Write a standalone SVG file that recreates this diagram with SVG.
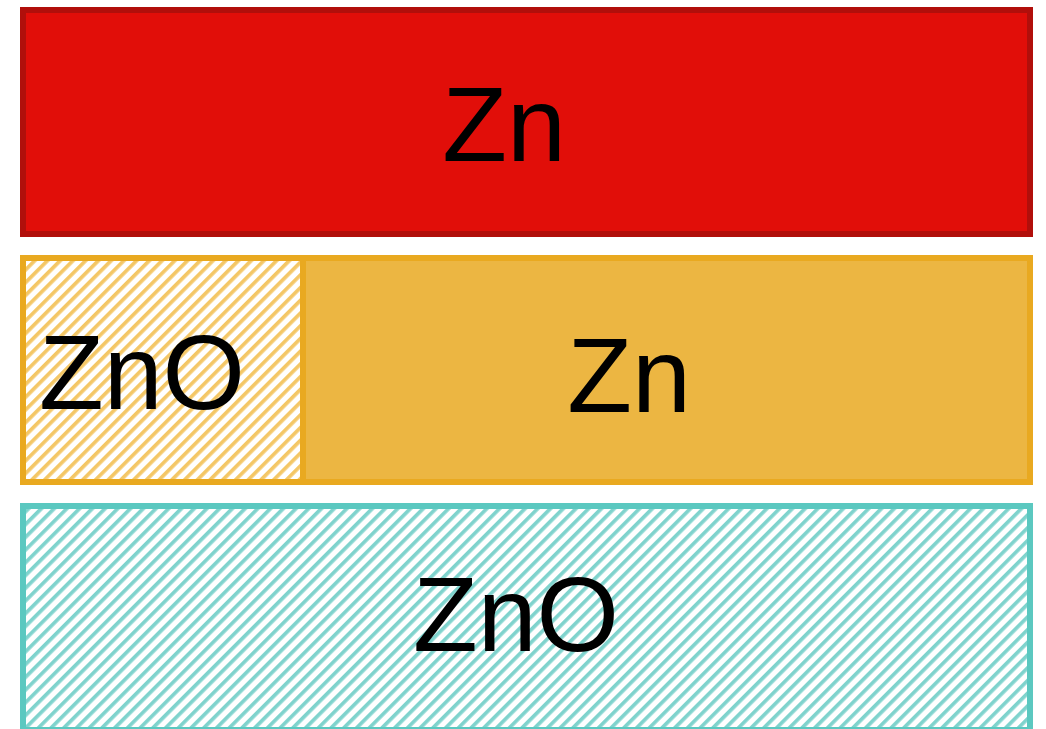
<svg xmlns="http://www.w3.org/2000/svg" width="1046" height="729" viewBox="0 0 1046 729">
  <style>
    .label { font-family: "Liberation Sans", Arial, sans-serif; font-size: 106px; fill: #000; text-anchor: middle; }
  </style>
  <defs>
    <!-- diagonal hatching used for the oxide layers -->
    <pattern id="hatch-orange" patternUnits="userSpaceOnUse" width="9" height="9" patternTransform="rotate(45)">
      <rect width="9" height="9" fill="#ffffff"/>
      <rect width="3.7" height="9" fill="#f4c766"/>
    </pattern>
    <pattern id="hatch-teal" patternUnits="userSpaceOnUse" width="9" height="9" patternTransform="rotate(45)">
      <rect width="9" height="9" fill="#ffffff"/>
      <rect width="3.7" height="9" fill="#7fd3cd"/>
    </pattern>
  </defs>
  <rect width="1046" height="729" fill="#ffffff"/>

  <!-- top layer: metallic zinc -->
  <g id="layer-zn-top">
    <rect x="23" y="10" width="1007" height="224" fill="#e10e09" stroke="#b10f0b" stroke-width="6"/>
    <text class="label" x="504" y="161">Zn</text>
  </g>

  <!-- middle layer: partially oxidised zinc -->
  <g id="layer-mixed">
    <rect x="23" y="258" width="1007" height="224" fill="#ecb642" stroke="#e9a920" stroke-width="6"/>
    <g id="layer-mixed-zno">
      <rect x="26" y="261" width="274" height="218" fill="url(#hatch-orange)"/>
      <line x1="303" y1="261" x2="303" y2="479" stroke="#e9a920" stroke-width="6"/>
      <text class="label" x="142" y="409">ZnO</text>
    </g>
    <g id="layer-mixed-zn">
      <text class="label" x="629" y="412">Zn</text>
    </g>
  </g>

  <!-- bottom layer: zinc oxide -->
  <g id="layer-zno-bottom">
    <rect x="23" y="506" width="1007" height="224" fill="url(#hatch-teal)" stroke="#5bc8c0" stroke-width="6"/>
    <text class="label" x="516" y="651">ZnO</text>
  </g>

  <g id="connectors"/>
</svg>
